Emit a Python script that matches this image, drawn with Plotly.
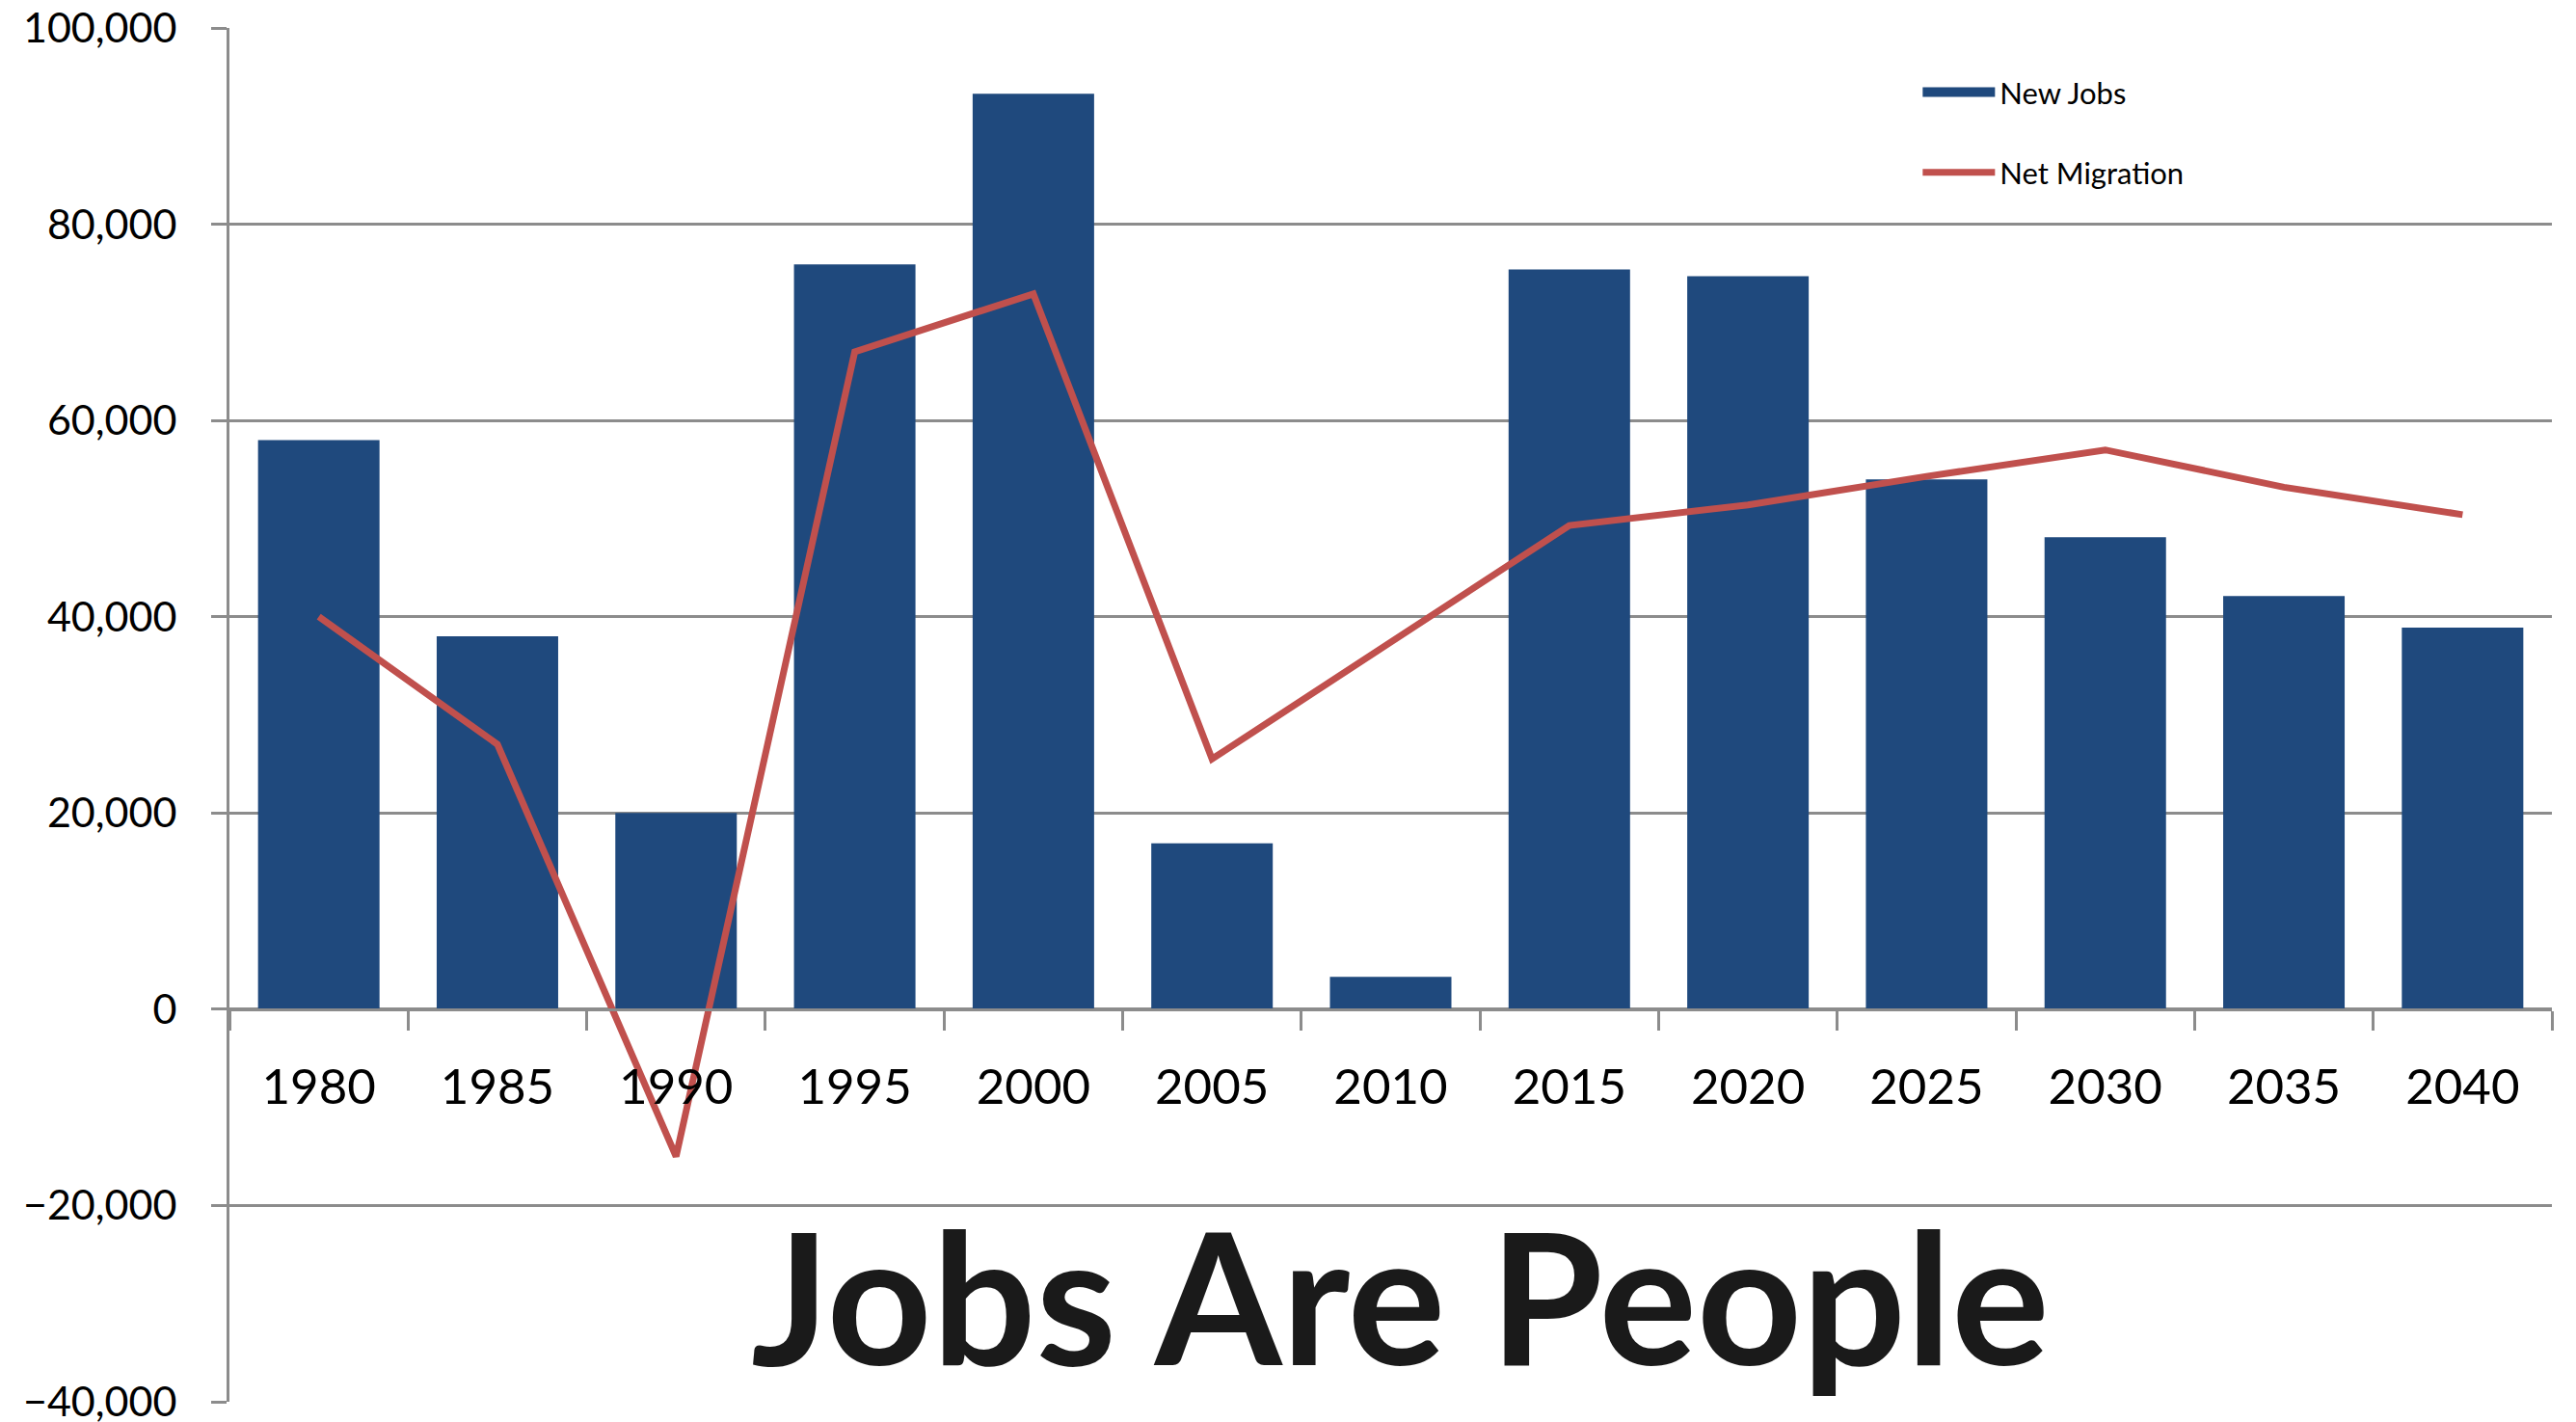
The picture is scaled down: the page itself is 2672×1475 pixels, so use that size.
import plotly.graph_objects as go

years = ["1980", "1985", "1990", "1995", "2000", "2005", "2010",
         "2015", "2020", "2025", "2030", "2035", "2040"]
new_jobs = [58000, 38000, 20000, 75900, 93300, 16900, 3300,
            75400, 74700, 54000, 48100, 42100, 38900]
net_migration = [40000, 27000, -15000, 67000, 72900, 25500, 37400,
                 49300, 51400, 54300, 57000, 53200, 50400]
y_min, y_max = -40000, 100000
y_ticks = [-40000, -20000, 0, 20000, 40000, 60000, 80000, 100000]

GRID = "#8C8C8C"
BLUE = "#1F497D"
RED = "#C0504D"
FONT = "Lato"

fig = go.Figure()
fig.add_trace(go.Bar(
    x=years, y=new_jobs, name="New Jobs", legendgroup="a", showlegend=False,
    marker=dict(color=BLUE, line=dict(width=0)),
))
# legend entry for the bars, drawn as a wide swatch
fig.add_trace(go.Scatter(
    x=[None], y=[None], name="New Jobs", legendgroup="a",
    mode="lines", line=dict(color=BLUE, width=25),
))
fig.add_trace(go.Scatter(
    x=years, y=net_migration, name="Net Migration", legendgroup="b",
    mode="lines", line=dict(color=RED, width=7),
))

zero_pos = (0 - y_min) / (y_max - y_min)

fig.update_layout(
    width=2664, height=1467,
    margin=dict(l=230, r=25, t=21, b=21, autoexpand=False),
    paper_bgcolor="white", plot_bgcolor="white",
    bargap=0.32,
    font=dict(family=FONT, color="black"),
    showlegend=True,
    legend=dict(
        x=0.727, y=0.972, xanchor="left", yanchor="top",
        font=dict(size=31, family=FONT, color="black"),
        bgcolor="rgba(0,0,0,0)", tracegroupgap=40, itemwidth=75,
    ),
    xaxis=dict(
        type="category",
        anchor="free", position=zero_pos,
        showline=True, linecolor=GRID, linewidth=3,
        ticks="outside", tickson="boundaries", ticklen=20,
        tickwidth=3, tickcolor=GRID,
        showgrid=False, zeroline=False, automargin=False,
        tickfont=dict(size=51, family=FONT, color="black"),
        ticklabelstandoff=35,
    ),
    yaxis=dict(
        range=[y_min, y_max], tickvals=y_ticks, tickformat=",",
        showgrid=True, gridcolor=GRID, gridwidth=3,
        showline=True, linecolor=GRID, linewidth=3,
        ticks="outside", ticklen=16, tickwidth=3, tickcolor=GRID,
        zeroline=False, automargin=False, ticklabeloverflow="allow",
        tickfont=dict(size=43, family=FONT, color="black"),
        ticklabelstandoff=27,
    ),
    annotations=[dict(
        text="<b>Jobs Are People</b>", xref="paper", yref="paper",
        x=0.504, y=0.0785, xanchor="center", yanchor="middle",
        showarrow=False,
        font=dict(size=190, family=FONT, color="#1A1A1A"),
    )],
)

fig.write_html("out.html")
